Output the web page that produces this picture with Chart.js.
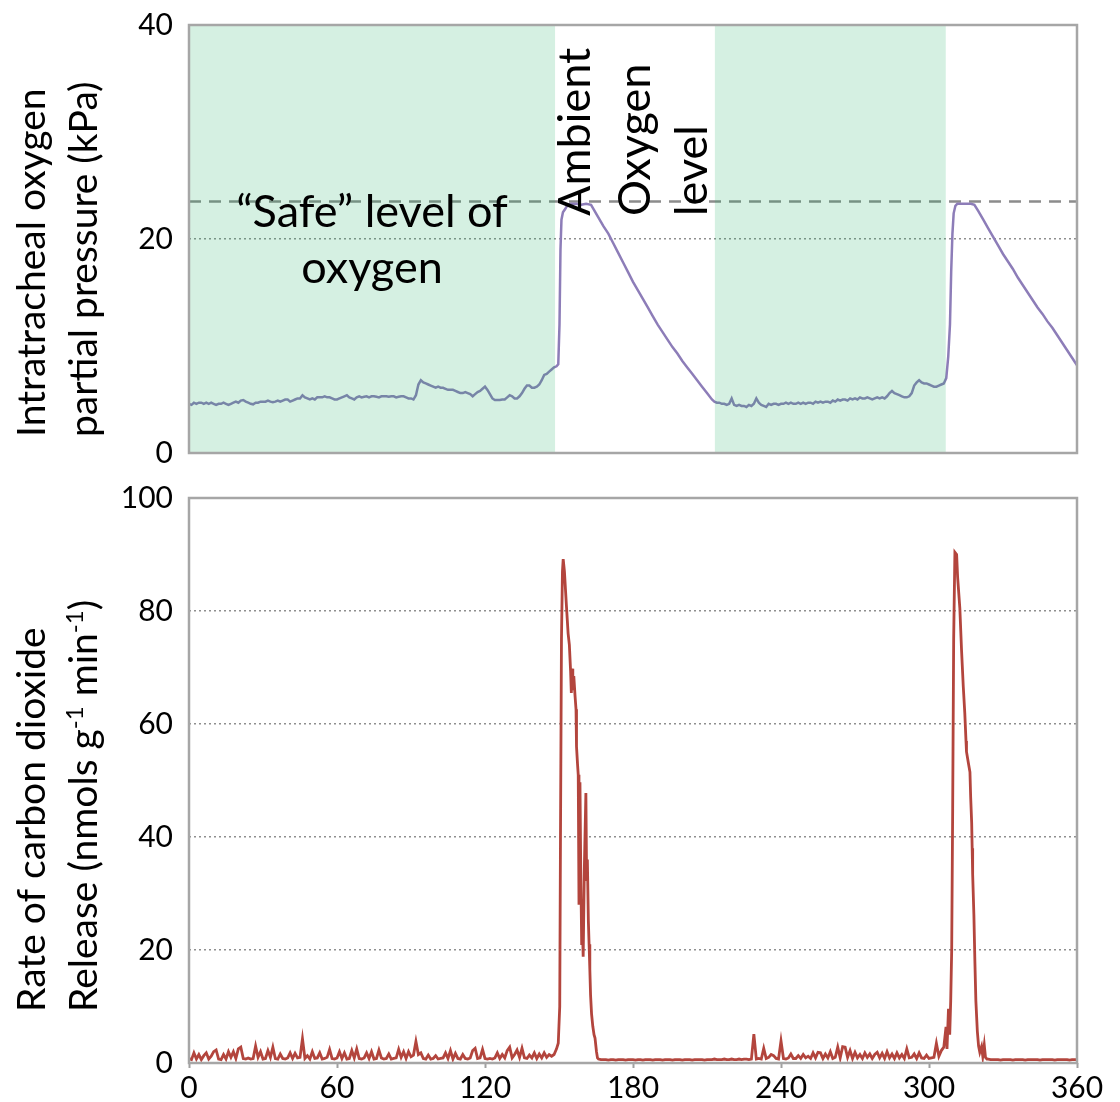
<!DOCTYPE html>
<html><head><meta charset="utf-8">
<script src="https://cdn.jsdelivr.net/npm/chart.js@4.4.1/dist/chart.umd.min.js"></script>
<style>
html,body{margin:0;padding:0;background:#fff;}
#wrap{position:relative;width:1120px;height:1102px;overflow:hidden;background:#fff;}
#c1box{position:absolute;left:0;top:0;width:1120px;height:490px;}
#c2box{position:absolute;left:0;top:470px;width:1120px;height:632px;}
</style></head><body>
<div id="wrap"><div id="c1box"><canvas id="c1"></canvas></div><div id="c2box"><canvas id="c2"></canvas></div></div>
<script>
// ---------- axis ticks ----------
const timeTicks = [0, 60, 120, 180, 240, 300, 360];
const o2Ticks = [0, 20, 40];
const co2Ticks = [0, 20, 40, 60, 80, 100];
const sampleStep = 1; // minutes between regularly sampled readings

// ---------- shaded "safe level" periods (minutes) ----------
const shadeStart = [0, 213.2];
const shadeEnd = [148.4, 306.8];
const ambientO2 = 23.5; // kPa, dashed line

// ---------- intratracheal O2 (kPa) ----------
const o2BaseAStart = 0;
const o2BaseA = [
 4.6,4.5,4.7,4.6,4.7,4.7,4.6,4.7,4.6,4.7,
 4.6,4.5,4.6,4.6,4.7,4.6,4.5,4.6,4.7,4.8,
 4.7,4.9,4.95,4.8,4.7,4.6,4.55,4.7,4.7,4.8,
 4.8,4.8,4.9,4.8,4.75,4.8,4.9,4.8,4.9,5.0,
 5.0,4.8,4.9,5.0,5.1,5.1,5.4,5.2,5.1,5.0,
 5.1,5.0,5.2,5.2,5.2,5.3,5.2,5.2,5.1,5.0,
 5.0,5.1,5.2,5.3,5.4,5.2,5.1,5.0,5.2,5.3,
 5.2,5.25,5.3,5.2,5.3,5.3,5.25,5.2,5.3,5.3,
 5.3,5.25,5.3,5.3,5.2,5.25,5.3,5.3,5.2,5.1,
 5.1,5.0,5.4,6.4,6.8,6.6,6.5,6.4,6.3,6.2,
 6.1,6.2,6.1,6.1,6.0,5.9,5.9,5.9,5.8,5.7,
 5.6,5.6,5.7,5.6,5.5,5.3,5.5,5.7,5.8,6.0,
 6.2,5.9,5.5,5.1,4.95,4.95,4.95,5.0,5.0,5.2,
 5.4,5.3,5.1,5.1,5.3,5.6,6.0,6.3,6.3,6.1,
 6.1,6.2,6.4,6.8,7.3,7.4,7.6,7.8,8.0,8.1
];
const o2Peak1T = [149.7,150.2,150.6,151,151.6,152.5,153.5,155,157,159,161,163,
 164,166,168,170,172,174,176,178,180,182,184,186,188,190,192,194,196,198,200,202,204,206,208,210,212];
const o2Peak1V = [8.3,12,19,21.8,22.5,22.8,23.2,23.3,23.3,23.2,23.3,23.2,
 22.8,22.0,21.2,20.5,19.6,18.7,17.8,16.9,16.0,15.2,14.4,13.6,12.8,12.0,11.3,10.6,9.9,9.3,8.6,8.0,7.4,6.8,6.2,5.6,5.0];
const o2BaseBStart = 213;
const o2BaseB = [
 4.8,4.7,4.7,4.6,4.6,4.5,4.6,5.1,4.5,4.4,
 4.5,4.4,4.4,4.3,4.5,4.4,4.6,5.1,4.7,4.5,
 4.4,4.3,4.6,4.5,4.6,4.6,4.5,4.6,4.6,4.7,
 4.6,4.7,4.6,4.6,4.7,4.6,4.7,4.6,4.7,4.7,
 4.6,4.8,4.7,4.8,4.7,4.8,4.8,4.7,4.9,4.8,
 5.0,4.9,5.0,5.0,4.9,5.1,5.0,5.1,5.0,5.2,
 5.1,5.1,5.2,5.1,5.0,5.1,5.2,5.1,5.2,5.1,
 5.3,5.6,5.8,5.6,5.5,5.4,5.3,5.2,5.2,5.3,
 5.6,6.3,6.6,6.8,6.6,6.5,6.5,6.4,6.3,6.2,
 6.2,6.3,6.4,6.5
];
const o2Peak2T = [307,307.8,308.5,309,309.5,310,310.7,311.5,313,315,317,318.4,
 320,322,324,326,328,330,332,334,336,338,340,342,344,346,348,350,352,354,356,358,360];
const o2Peak2V = [7.0,9.0,12,17,20.5,22.4,23.1,23.3,23.3,23.3,23.3,23.2,
 22.6,21.8,21.0,20.2,19.4,18.6,17.9,17.2,16.4,15.7,15.0,14.3,13.6,13.0,12.3,11.7,11.0,10.3,9.6,8.9,8.2];

// ---------- CO2 release (nmol g-1 min-1) ----------
const co2BaseAStart = 0;
const co2BaseA = [
 0.8,0.6,1.8,0.7,1.5,0.6,1.3,1.8,0.7,1.2,
 2.0,2.3,0.7,0.6,1.5,0.7,2.0,1.0,2.0,0.8,
 2.5,2.8,0.8,0.7,0.9,0.7,0.8,3.0,1.0,2.0,
 0.7,0.8,2.2,1.0,2.8,0.8,0.7,1.6,0.8,0.7,
 0.9,1.8,0.8,1.7,0.9,1.0,4.3,0.8,1.3,0.7,
 2.0,0.8,0.9,1.8,0.7,0.8,1.0,2.4,0.8,0.7,
 0.9,2.0,0.8,1.8,0.7,0.8,2.2,0.9,2.5,0.8,
 0.7,0.9,1.8,0.8,2.0,0.7,0.8,2.3,0.9,0.7,
 0.8,1.6,0.7,0.8,0.9,2.4,1.0,2.0,0.8,2.0,
 1.1,1.4,3.8,1.5,1.8,0.8,0.7,1.4,0.7,0.8,
 1.3,0.7,0.8,0.9,1.8,0.8,2.2,0.7,1.7,0.8,
 0.7,1.5,0.8,0.7,0.9,2.2,2.6,0.8,0.9,2.4,
 0.8,0.7,0.8,0.7,0.9,1.8,0.8,1.5,0.9,2.2,
 2.8,0.9,1.5,2.3,1.0,2.6,0.9,0.8,1.4,0.9,
 1.8,0.8,1.6,0.9,1.8,1.0,1.5,1.2,1.5,2.5
];
const co2Peak1T = [149.7,150.3,150.6,151,151.4,151.7,152.2,153,153.7,154.2,154.7,155,155.3,155.6,156,156.5,156.9,157.1,157.5,157.8,
 158.1,158.3,158.5,158.8,159.2,159.5,159.8,160.3,160.9,161.2,161.5,161.9,162.2,162.5,162.8,163.2,163.7,164.2,164.6,165.2,165.6];
const co2Peak1V = [3.5,10,40,75,87,89.2,87,81,76,74,69.4,65.5,69.8,66,68.5,65,62.6,56,53,51,
 28,40,49.7,35,20.9,24,18.8,35,47.8,32.2,36,25.2,21,16.6,12,8.7,6.5,5,4.4,2,0.9];
const co2BaseBStart = 166;
const co2BaseB = [
 0.7,0.6,0.6,0.6,0.5,0.6,0.6,0.5,0.6,0.6,
 0.6,0.5,0.6,0.6,0.6,0.5,0.6,0.6,0.5,0.6,
 0.6,0.6,0.5,0.6,0.6,0.6,0.5,0.6,0.6,0.6,
 0.5,0.6,0.6,0.6,0.5,0.6,0.6,0.6,0.5,0.6,
 0.6,0.6,0.6,0.5,0.6,0.6,0.6,0.7,0.6,0.6,
 0.6,0.7,0.6,0.6,0.7,0.6,0.6,0.7,0.6,0.7,
 0.7,0.6,0.7,5.1,0.7,0.8,0.7,2.6,0.8,1.0,
 1.5,1.3,0.8,0.7,3.9,0.8,0.7,0.9,1.6,0.8,
 0.8,1.3,0.8,1.5,0.9,1.2,0.8,1.8,0.9,1.9,
 1.8,0.8,1.6,0.9,2.0,0.8,1.0,2.8,0.9,2.9,
 2.8,1.0,2.2,0.8,1.9,0.9,1.5,0.8,1.8,1.0,
 1.6,0.8,1.5,1.9,0.9,1.7,0.8,2.0,0.9,1.6,
 0.8,1.8,0.9,1.5,0.8,2.5,0.9,1.0,1.6,0.8,
 1.8,0.9,0.8,1.4,0.8,0.9,1.0,3.5,1.2,2.2,2.8
];
const co2Peak2T = [306.9,307.3,307.9,308.4,308.8,309.2,309.6,310,310.5,311.2,311.6,312.5,313.2,313.9,314.5,315,315.2,316,316.6,316.9,
 317.3,317.5,317.7,318.2,318.6,319,319.6,320.1,320.6,321.3,321.8,322.4,322.9,323.5];
const co2Peak2V = [6.4,2.5,9.6,5,11,20,45,75,90.4,90,86,80.5,73,66.6,62,57,55.1,53,51.5,47,
 42.5,38,33.4,26.2,18,11,5.6,3,1.9,2.9,1.2,3.2,1.0,0.7];
const co2BaseCStart = 324;
const co2BaseC = [
 0.7,0.6,0.6,0.6,0.6,0.5,0.6,0.6,0.6,0.6,
 0.5,0.6,0.6,0.6,0.6,0.5,0.6,0.6,0.6,0.6,
 0.6,0.5,0.6,0.6,0.6,0.6,0.6,0.5,0.6,0.6,
 0.6,0.6,0.6,0.5,0.6,0.6,0.6
];

// ---------- text ----------
const o2Title = ['Intratracheal oxygen', 'partial pressure (kPa)'];
const co2Title = [[{t:'Rate of carbon dioxide'}], [{t:'Release (nmols g'},{t:'-1',sup:true},{t:' min'},{t:'-1',sup:true},{t:')'}]];
const safeLabel = ['\u201CSafe\u201D level of', 'oxygen'];
const ambientLabel = ['Ambient', 'Oxygen', 'level'];

// ---------- helpers ----------
const segPoints = (start, vals) => vals.map((v, i) => ({x: start + i * sampleStep, y: v}));
const pairPoints = (ts, vs) => ts.map((t, i) => ({x: t, y: vs[i]}));

const o2Data = [].concat(segPoints(o2BaseAStart, o2BaseA), pairPoints(o2Peak1T, o2Peak1V),
  segPoints(o2BaseBStart, o2BaseB), pairPoints(o2Peak2T, o2Peak2V));
const co2Data = [].concat(segPoints(co2BaseAStart, co2BaseA), pairPoints(co2Peak1T, co2Peak1V),
  segPoints(co2BaseBStart, co2BaseB), pairPoints(co2Peak2T, co2Peak2V), segPoints(co2BaseCStart, co2BaseC));

const FAM = 'Lato';
Chart.defaults.font.family = FAM;
Chart.defaults.color = '#000';

const TICK_FONT = {family: FAM, size: 30};
const TITLE_SIZE = 39;
const ANNOT_SIZE = 45;
const FRAME_COLOR = '#a6a6a6';
const GRID_COLOR = '#8f8f8f';

function drawFrame(chart) {
  const {ctx, chartArea: a} = chart;
  ctx.save();
  ctx.strokeStyle = FRAME_COLOR;
  ctx.lineWidth = 2.5;
  ctx.strokeRect(a.left, a.top, a.right - a.left, a.bottom - a.top);
  ctx.restore();
}

function drawRotated(ctx, lines, baselines, yStart, size) {
  lines.forEach((segs, i) => {
    ctx.save();
    ctx.translate(baselines[i], yStart);
    ctx.rotate(-Math.PI / 2);
    ctx.fillStyle = '#000';
    ctx.textAlign = 'left';
    ctx.textBaseline = 'alphabetic';
    let cx = 0;
    segs.forEach(s => {
      const fs = s.sup ? Math.round(size * 0.62) : size;
      ctx.font = fs + 'px ' + FAM;
      ctx.fillText(s.t, cx, s.sup ? -size * 0.36 : 0);
      cx += ctx.measureText(s.t).width;
    });
    ctx.restore();
  });
}

const fixedYWidth = 189;
function fitY(s) { s.width = fixedYWidth; s.paddingTop = 0; s.paddingBottom = 0; }

const topPlugin = {
  id: 'topDeco',
  afterDatasetsDraw(chart) {
    const {ctx, chartArea: a, scales: {x}} = chart;
    ctx.save();
    ctx.fillStyle = 'rgba(22,172,94,0.18)';
    for (let i = 0; i < shadeStart.length; i++) {
      const x0 = x.getPixelForValue(shadeStart[i]);
      const x1 = x.getPixelForValue(shadeEnd[i]);
      ctx.fillRect(x0, a.top, x1 - x0, a.bottom - a.top);
    }
    ctx.restore();
    drawFrame(chart);
  },
  afterDraw(chart) {
    const ctx = chart.ctx;
    ctx.save();
    ctx.fillStyle = '#000';
    ctx.font = ANNOT_SIZE + 'px ' + FAM;
    ctx.textAlign = 'center';
    ctx.textBaseline = 'alphabetic';
    ctx.fillText(safeLabel[0], 372, 227);
    ctx.fillText(safeLabel[1], 372, 283);
    ctx.restore();
    drawRotated(ctx, ambientLabel.map(t => [{t}]), [590, 650, 707], 216, ANNOT_SIZE);
    drawRotated(ctx, o2Title.map(t => [{t}]), [45, 97], 437, TITLE_SIZE);
  }
};

const bottomPlugin = {
  id: 'bottomDeco',
  afterDatasetsDraw(chart) { drawFrame(chart); },
  afterDraw(chart) {
    drawRotated(chart.ctx, co2Title, [45, 97], 1012 - 470, TITLE_SIZE);
  }
};

new Chart(document.getElementById('c1'), {
  type: 'line',
  data: {
    datasets: [
      {label: 'O2', data: o2Data, borderColor: '#8d7db8', borderWidth: 2.5, pointRadius: 0, tension: 0},
      {label: 'Ambient', data: [{x: timeTicks[0], y: ambientO2}, {x: timeTicks[timeTicks.length - 1], y: ambientO2}],
       borderColor: '#8c8c8c', borderWidth: 2.4, borderDash: [12, 8], pointRadius: 0}
    ]
  },
  options: {
    responsive: true, maintainAspectRatio: false, animation: false,
    layout: {padding: {top: 25, right: 43, bottom: 37, left: 0}},
    plugins: {legend: {display: false}, tooltip: {enabled: false}},
    scales: {
      x: {type: 'linear', display: false, min: timeTicks[0], max: timeTicks[timeTicks.length - 1]},
      y: {
        min: o2Ticks[0], max: o2Ticks[o2Ticks.length - 1],
        afterFit: fitY,
        afterBuildTicks(s) { s.ticks = o2Ticks.map(v => ({value: v})); },
        ticks: {font: TICK_FONT, color: '#000', padding: 16},
        grid: {drawTicks: false, lineWidth: 1.6,
          color: c => (c.tick && c.tick.value > o2Ticks[0] && c.tick.value < o2Ticks[o2Ticks.length - 1]) ? GRID_COLOR : 'rgba(0,0,0,0)'},
        border: {display: false, dash: [2, 3]}
      }
    }
  },
  plugins: [topPlugin]
});

new Chart(document.getElementById('c2'), {
  type: 'line',
  data: {
    datasets: [
      {label: 'CO2', data: co2Data, borderColor: '#b3453d', borderWidth: 2.8, pointRadius: 0, tension: 0}
    ]
  },
  options: {
    responsive: true, maintainAspectRatio: false, animation: false,
    layout: {padding: {top: 28, right: 43, bottom: 0, left: 0}},
    plugins: {legend: {display: false}, tooltip: {enabled: false}},
    scales: {
      x: {
        type: 'linear', min: timeTicks[0], max: timeTicks[timeTicks.length - 1],
        afterFit(s) { s.height = 39; },
        afterBuildTicks(s) { s.ticks = timeTicks.map(v => ({value: v})); },
        ticks: {font: TICK_FONT, color: '#000', padding: 2, maxRotation: 0, autoSkip: false},
        grid: {drawOnChartArea: false, drawTicks: true, tickLength: 5, tickColor: '#a0a0a0', tickWidth: 2},
        border: {display: false}
      },
      y: {
        min: co2Ticks[0], max: co2Ticks[co2Ticks.length - 1],
        afterFit: fitY,
        afterBuildTicks(s) { s.ticks = co2Ticks.map(v => ({value: v})); },
        ticks: {font: TICK_FONT, color: '#000', padding: 16},
        grid: {drawTicks: false, lineWidth: 1.6,
          color: c => (c.tick && c.tick.value > co2Ticks[0] && c.tick.value < co2Ticks[co2Ticks.length - 1]) ? GRID_COLOR : 'rgba(0,0,0,0)'},
        border: {display: false, dash: [2, 3]}
      }
    }
  },
  plugins: [bottomPlugin]
});
</script>
</body></html>
